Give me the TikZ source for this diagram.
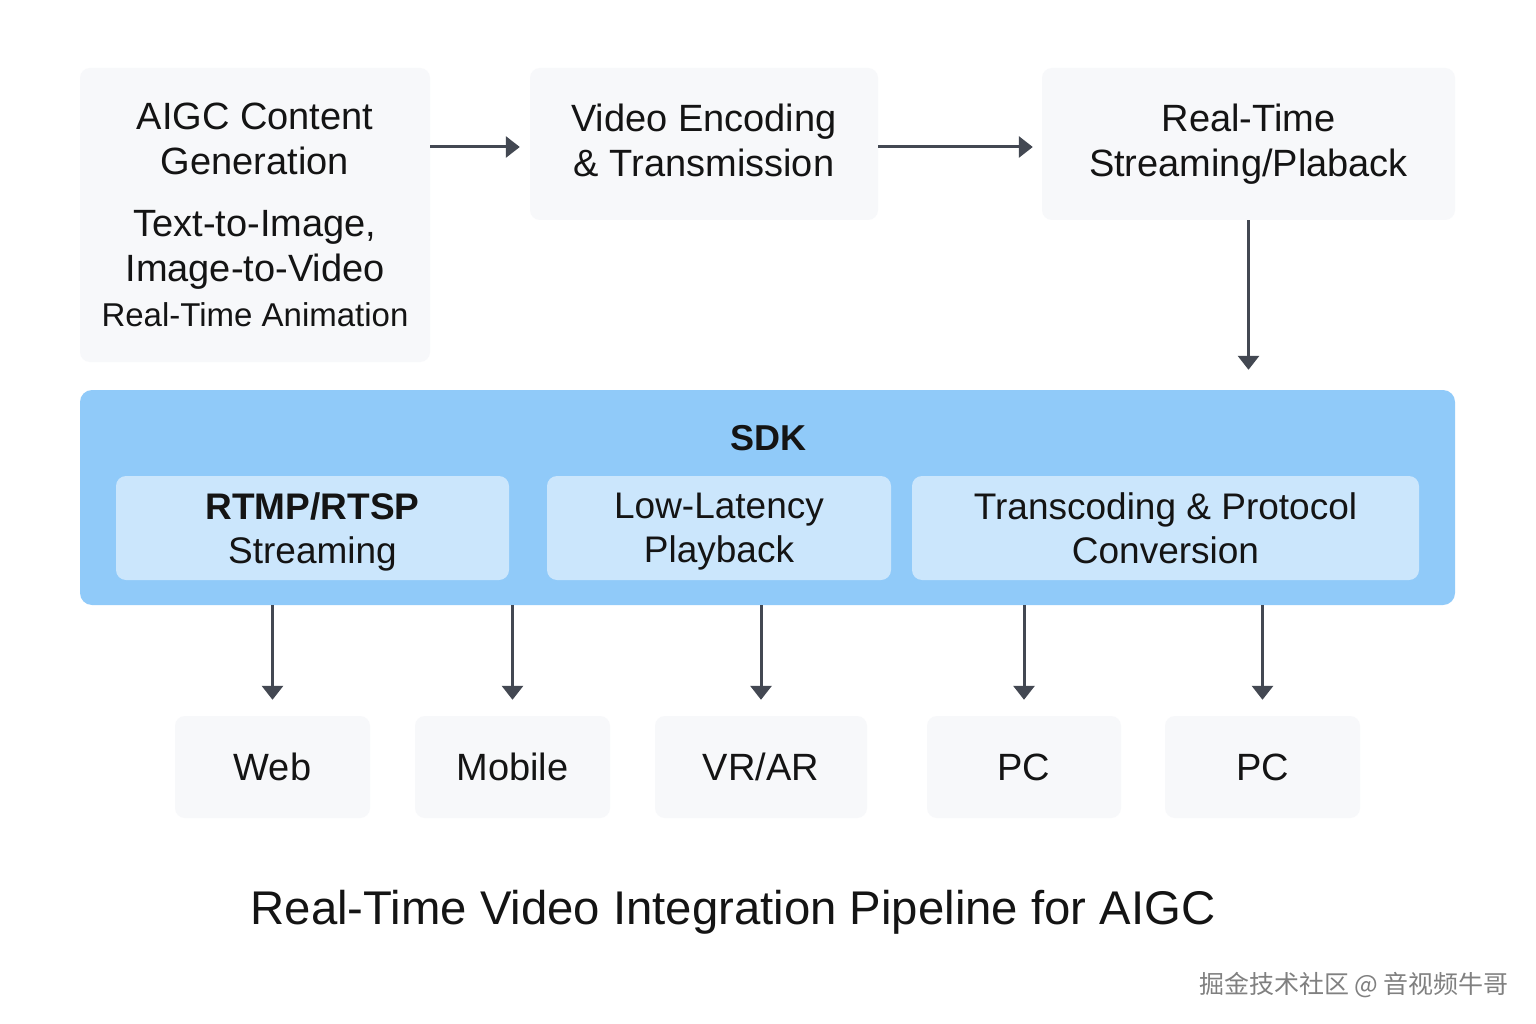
\documentclass[tikz,border=0pt]{standalone}
\usepackage{fontspec}
\setmainfont{Liberation Sans}
\newfontfamily\cjk{Noto Sans CJK SC}
\usetikzlibrary{positioning, arrows.meta}
\definecolor{boxgray}{HTML}{F7F8FA}
\definecolor{sdkblue}{HTML}{90CAF9}
\definecolor{subblue}{HTML}{CBE6FC}
\definecolor{arrowgray}{HTML}{434852}
\definecolor{textdark}{HTML}{141414}
\tikzstyle{box} = [rectangle, rounded corners=10pt, fill=boxgray, align=center, inner sep=0pt, text=textdark, font=\fontsize{38}{45}\selectfont]
\tikzstyle{subbox} = [rectangle, rounded corners=10pt, fill=subblue, align=center, inner sep=0pt, text=textdark, minimum height=104pt, font=\fontsize{37}{44}\selectfont]
\tikzstyle{target} = [box, minimum width=195pt, minimum height=102pt]
\tikzstyle{arrow} = [line width=3pt, draw=arrowgray, -{Triangle[length=14pt,width=21pt]}]

\begin{document}
\begin{tikzpicture}[x=1pt,y=-1pt]
\fill[white] (0,0) rectangle (1536,1024);
\useasboundingbox (0,0) rectangle (1536,1024);

% top row
\node[box, minimum width=350pt, minimum height=294pt] (aigc) at (255,215)
 {AIGC Content\\Generation\\[17pt]Text-to-Image,\\Image-to-Video\\{\fontsize{33}{44}\selectfont Real-Time Animation}};
\node[box, minimum width=348pt, minimum height=152pt] (encode) at (704,144)
 {Video Encoding\\\& Transmission\vphantom{g}};
\node[box, minimum width=413pt, minimum height=152pt] (stream) at (1248.5,144)
 {Real-Time\\Streaming/Plaback};

\draw[arrow, shorten >=10pt] ([yshift=-3pt]aigc.east |- encode.west) -- ([yshift=-3pt]encode.west);
\draw[arrow, shorten >=9pt] ([yshift=-3pt]encode.east) -- ([yshift=-3pt]stream.west);

% SDK
\node[rectangle, rounded corners=12pt, fill=sdkblue, minimum width=1375pt, minimum height=215pt] (sdk) at (767.5,497.5) {};
\node[text=textdark, font=\fontsize{36}{40}\selectfont\bfseries] (sdklabel) at (768,438) {SDK};
\node[subbox, minimum width=393pt] (rtmp) at (312.5,528) {\textbf{RTMP/RTSP}\\\smash{Streaming}};
\node[subbox, minimum width=344pt] (latency) at (719,528) {Low-Latency\\\smash{Playback}};
\node[subbox, minimum width=507pt] (transcode) at (1165.5,528) {Transcoding \& Protocol\\Conversion};

\draw[arrow, shorten >=20pt] (stream.south) -- (stream.south |- sdk.north);

% targets
\node[target] (web) at (272.5,767) {Web};
\node[target] (mobile) at (512.5,767) {Mobile};
\node[target, minimum width=212pt] (vrar) at (761,767) {VR/AR};
\node[target, minimum width=194pt] (pcA) at (1024,767) {PC};
\node[target] (pcB) at (1262.5,767) {PC};

\foreach \t in {web,mobile,vrar,pcA,pcB}
{
 \draw[arrow, shorten >=16pt] (sdk.south -| \t.north) -- (\t.north);
}

\node[text=textdark, font=\fontsize{47.3}{52}\selectfont] (title) at (733,912) {Real-Time Video Integration Pipeline for AIGC};
\node[text=gray, font=\fontsize{25}{30}\selectfont] (mark) at (1354,985) {\cjk 掘金技术社区 @ 音视频牛哥};

\end{tikzpicture}
\end{document}
